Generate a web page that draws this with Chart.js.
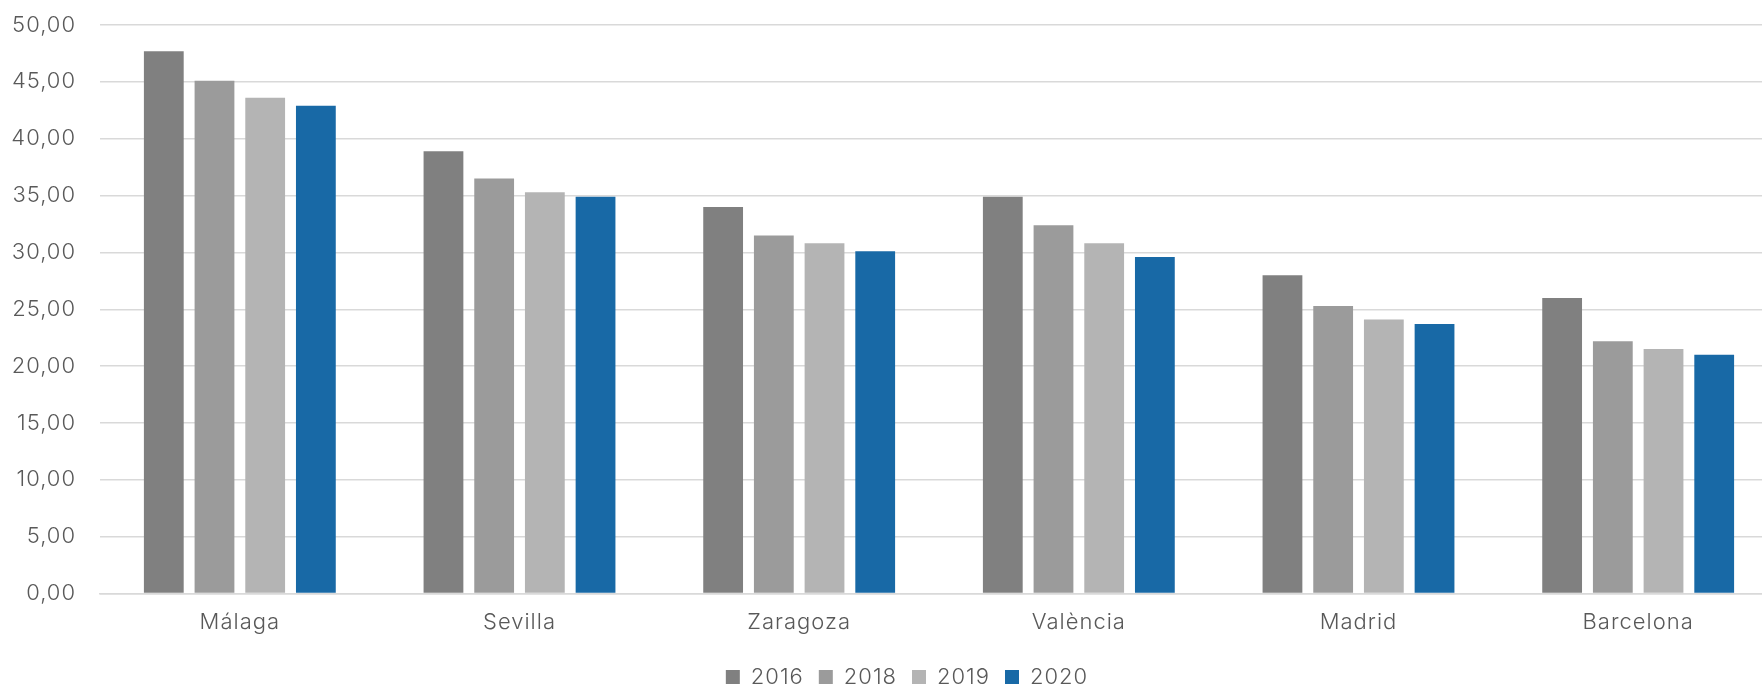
<!DOCTYPE html>
<html>
<head>
<meta charset="utf-8">
<script src="https://cdn.jsdelivr.net/npm/chart.js@4/dist/chart.umd.min.js"></script>
<style>
  html, body { margin: 0; padding: 0; background: #ffffff; }
  #frame { width: 1762px; height: 687px; overflow: hidden; position: relative; }
  #wrap { width: 1778px; height: 687px; position: relative; }
</style>
</head>
<body>
<div id="frame"><div id="wrap"><canvas id="chart"></canvas></div></div>
<script>
// Ciudades y valores por año
const cities = ["Málaga", "Sevilla", "Zaragoza", "València", "Madrid", "Barcelona"];
const values2016 = [47.7, 38.9, 34.0, 34.9, 28.0, 26.0];
const values2018 = [45.1, 36.5, 31.5, 32.4, 25.3, 22.2];
const values2019 = [43.6, 35.3, 30.8, 30.8, 24.1, 21.5];
const values2020 = [42.9, 34.9, 30.1, 29.6, 23.7, 21.0];
const years = ["2016", "2018", "2019", "2020"];
const yTicks = [0, 5, 10, 15, 20, 25, 30, 35, 40, 45, 50];

const colors = ["#808080", "#9b9b9b", "#b4b4b4", "#1869a6"];
const seriesValues = [values2016, values2018, values2019, values2020];

const textColor = "#595959";
const gridColor = "#d9d9d9";
const fontFamily = "Inter, 'Noto Sans', sans-serif";
const labelFont = { family: fontFamily, size: 22, weight: 300 };

// Slightly spaced lettering for all canvas text
const letterSpacingPlugin = {
  id: "letterSpacing",
  beforeInit(chart) { chart.ctx.letterSpacing = "1px"; },
  beforeUpdate(chart) { chart.ctx.letterSpacing = "1px"; },
  beforeDraw(chart) { chart.ctx.letterSpacing = "1px"; }
};

// Center the legend under the plot area rather than the whole canvas
const legendShiftPlugin = {
  id: "legendShift",
  afterLayout(chart) {
    const lg = chart.legend;
    if (!lg) return;
    const shift = 18;
    lg.left += shift;
    lg.right += shift;
  }
};

const datasets = years.map((y, i) => ({
  label: y,
  data: seriesValues[i],
  backgroundColor: colors[i],
  borderWidth: 0,
  categoryPercentage: 0.725,
  barPercentage: 0.785
}));

new Chart(document.getElementById("chart"), {
  type: "bar",
  data: { labels: cities, datasets },
  plugins: [letterSpacingPlugin, legendShiftPlugin],
  options: {
    responsive: true,
    maintainAspectRatio: false,
    animation: false,
    layout: { padding: { top: 25, right: 0, left: 0, bottom: -11 } },
    plugins: {
      tooltip: { enabled: false },
      legend: {
        position: "bottom",
        labels: {
          color: textColor,
          font: labelFont,
          boxWidth: 14,
          boxHeight: 14,
          padding: 15
        }
      }
    },
    scales: {
      x: {
        grid: { display: false, drawTicks: false },
        border: { color: gridColor, width: 1.5 },
        afterFit: (scale) => { scale.height -= 1; },
        ticks: {
          color: textColor,
          font: labelFont,
          padding: 16
        }
      },
      y: {
        min: 0,
        max: 50,
        afterFit: (scale) => { scale.width = 100; scale.paddingTop = 0; },
        afterBuildTicks: (scale) => { scale.ticks = yTicks.map(v => ({ value: v })); },
        grid: { color: gridColor, lineWidth: 1.5, drawTicks: false },
        border: { display: false },
        ticks: {
          color: textColor,
          font: labelFont,
          padding: 24,
          callback: (v) => Number(v).toFixed(2).replace(".", ",")
        }
      }
    }
  }
});
</script>
</body>
</html>
